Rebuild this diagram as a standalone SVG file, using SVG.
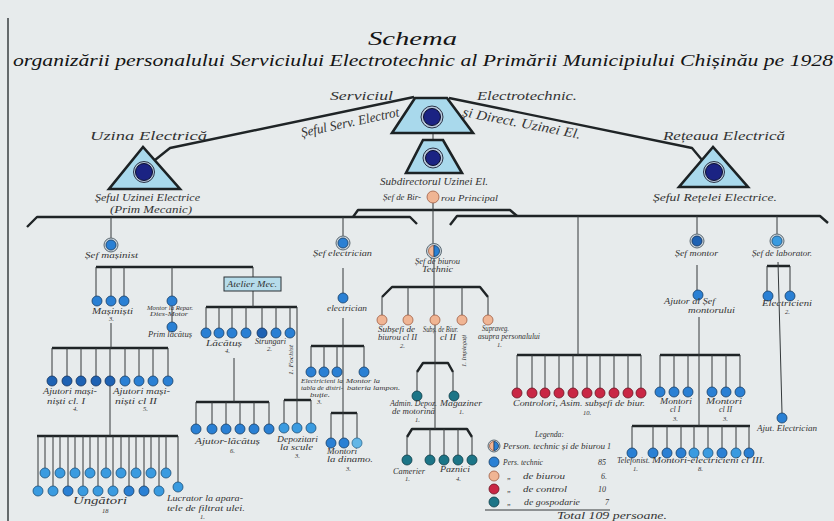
<svg xmlns="http://www.w3.org/2000/svg" width="834" height="521" viewBox="0 0 834 521">
<defs>
<style>
text{font-family:"Liberation Serif","DejaVu Serif",serif;font-style:italic;fill:#333}
.ti{fill:#141414}
.l{font-size:13.5px}
.m{font-size:9.5px}
.s{font-size:8px}
.xs{font-size:6.5px}
.k{stroke:#1f2426;stroke-width:2.4;fill:none;stroke-linejoin:round}
.n{stroke:#34393b;stroke-width:1;fill:none}
.tri{fill:#a9d9ec;stroke:#1c2224;stroke-width:2.6;stroke-linejoin:miter}
.nv{fill:#1b2383;stroke:#0c1030;stroke-width:1}
.nr{fill:#b9c9dc;stroke:#2a3346;stroke-width:1}
.rg{fill:#c9d3da;stroke:#5d6a73;stroke-width:1}
.cb{fill:#2a80d4;stroke:#173d66;stroke-width:.8}
.cd{fill:#1e62b3;stroke:#12315c;stroke-width:.8}
.cl{fill:#3a9be0;stroke:#1c4f78;stroke-width:.8}
.cx{fill:#62b6e6;stroke:#2b6a92;stroke-width:.8}
.cp{fill:#f0b594;stroke:#a05e44;stroke-width:.8}
.cr{fill:#c92745;stroke:#6c1322;stroke-width:.8}
.ct{fill:#1c7587;stroke:#0e3c46;stroke-width:.8}
.bx{fill:#b6dcea;stroke:#2b3134;stroke-width:1}
</style>
</defs>
<rect width="834" height="521" fill="#e7ebec"/>
<line x1="8" y1="18" x2="8" y2="521" stroke="#3a3f42" stroke-width="1.5"/>

<g id="title">
<text x="368" y="45" class="ti" font-size="18" textLength="89" lengthAdjust="spacingAndGlyphs">Schema</text>
<text x="13" y="66" class="ti" font-size="16" textLength="820" lengthAdjust="spacingAndGlyphs">organizării personalului Serviciului Electrotechnic al Primării Municipiului Chișinău pe 1928</text>
</g>

<g id="connectors">
<polyline class="k" points="155,160 170,148 414,97"/>
<polyline class="k" points="449,98 692,148 702,160"/>
<polyline class="k" points="27,227 37,217 410,217 417,224"/>
<polyline class="k" points="353,217 358,210 510,210 517,216"/>
<polyline class="k" points="450,225 457,216 820,216 828,223"/>
<polyline class="k" points="382,297 392,287 480,287 488,297"/>
<polyline class="k" points="417,372 423,363 448,363 453,372"/>
<polyline class="k" points="407,437 412,429 467,429 472,437"/>
<path class="k" d="M96 267H253 M52 348H168 M37 436H178 M206 307H297 M196 402H269 M284 400H311 M311 346H364 M331 413H357 M517 355H641 M660 355H740 M632 426H750 M767 266H790"/>
<path class="n" d="M433 133V140 M433 203V244 M111 217V238 M343 217V236 M578 216V355 M697 216V234 M777 216V234
M96 267V296 M111 267V296 M124 267V296 M172 267V296 M253 267V277 M172 306V322
M111 323V348 M52 348V376 M67 348V376 M81 348V376 M96 348V376 M110 348V376 M125 348V376 M139 348V376 M153 348V376 M168 348V376
M110 386V436
M45 436V468 M60 436V468 M75 436V468 M90 436V468 M106 436V468 M121 436V468 M136 436V468 M151 436V468 M166 436V468
M38 436V486 M53 436V486 M68 436V486 M83 436V486 M98 436V486 M113 436V486 M129 436V486 M144 436V486 M159 436V486 M178 436V482
M253 291V307 M206 307V328 M219 307V328 M232 307V328 M246 307V328 M262 307V328 M276 307V328 M290 307V328 M297 307V400
M234 358V402 M196 402V424 M212 402V424 M226 402V424 M240 402V424 M254 402V424 M269 402V424
M284 400V423 M297 400V423 M311 400V423
M343 268V293 M343 318V438 M311 346V367 M324 346V367 M337 346V367 M364 346V367
M331 413V438 M357 413V438
M434 258V315 M382 297V315 M408 287V315 M462 287V315 M488 297V315 M435 325V429
M417 372V391 M453 372V391
M407 437V455 M430 429V455 M444 429V455 M458 429V455 M472 437V455
M517 355V388 M532 355V388 M545 355V388 M559 355V388 M573 355V388 M587 355V388 M600 355V388 M614 355V388 M628 355V388 M641 355V388
M697 265V290 M699 317V426
M660 355V387 M674 355V387 M688 355V387 M712 355V387 M726 355V387 M740 355V387
M632 426V448 M653 426V448 M667 426V448 M681 426V448 M694 426V448 M708 426V448 M722 426V448 M736 426V448 M749 426V448
M778 262L782 413 M767 266V291 M790 266V291
M485 510H610"/>
</g>

<g id="sef-serviciu">
<polygon class="tri" points="415,98 447,98 473,133 392,133"/>
<circle class="nr" cx="432" cy="117" r="11"/>
<circle class="nv" cx="432" cy="117" r="8.5"/>
<text x="330" y="100" class="l" textLength="63" lengthAdjust="spacingAndGlyphs">Serviciul</text>
<text x="477" y="100" class="l" textLength="100" lengthAdjust="spacingAndGlyphs">Electrotechnic.</text>
<text transform="translate(302,137) rotate(-12)" class="l" textLength="100" lengthAdjust="spacingAndGlyphs">Șeful Serv. Electrot</text>
<text transform="translate(462,116) rotate(11)" class="l" textLength="120" lengthAdjust="spacingAndGlyphs">și Direct. Uzinei El.</text>
</g>

<g id="subdirector">
<polygon class="tri" points="423,140 443,140 462,173 406,173"/>
<circle class="nr" cx="433" cy="158" r="10"/>
<circle class="nv" cx="433" cy="158" r="7.5"/>
<text x="380" y="185" class="m" textLength="108" lengthAdjust="spacingAndGlyphs">Subdirectorul Uzinei El.</text>
</g>

<g id="sef-birou-principal">
<circle class="cp" cx="433" cy="197" r="6"/>
<text x="383" y="200" class="s" textLength="38" lengthAdjust="spacingAndGlyphs">Șef de Bir-</text>
<text x="441" y="201" class="s" textLength="57" lengthAdjust="spacingAndGlyphs">rou Principal</text>
</g>

<g id="uzina-electrica">
<polygon class="tri" points="143,147 109,189 180,189"/>
<circle class="nr" cx="144" cy="172" r="10.5"/>
<circle class="nv" cx="144" cy="172" r="8.5"/>
<text x="90" y="140" class="l" font-size="15" textLength="117" lengthAdjust="spacingAndGlyphs">Uzina Electrică</text>
<text x="95" y="201" class="m" textLength="105" lengthAdjust="spacingAndGlyphs">Șeful Uzinei Electrice</text>
<text x="110" y="213" class="m" textLength="82" lengthAdjust="spacingAndGlyphs">(Prim Mecanic)</text>
</g>

<g id="reteaua-electrica">
<polygon class="tri" points="713,147 679,187 748,187"/>
<circle class="nr" cx="714" cy="172" r="10.5"/>
<circle class="nv" cx="714" cy="172" r="8.5"/>
<text x="663" y="140" class="l" font-size="15" textLength="122" lengthAdjust="spacingAndGlyphs">Rețeaua Electrică</text>
<text x="653" y="201" class="m" textLength="124" lengthAdjust="spacingAndGlyphs">Șeful Rețelei Electrice.</text>
</g>

<g id="sef-masinist">
<circle class="rg" cx="111" cy="245" r="7"/>
<circle class="cb" cx="111" cy="245" r="5"/>
<text x="85" y="258" class="s" textLength="53" lengthAdjust="spacingAndGlyphs">Șef mașinist</text>
</g>

<g id="masinisti">
<circle class="cb" cx="97" cy="301" r="5"/>
<circle class="cb" cx="111" cy="301" r="5"/>
<circle class="cb" cx="124" cy="301" r="5"/>
<text x="92" y="314" class="s" textLength="41" lengthAdjust="spacingAndGlyphs">Mașiniști</text>
<text x="109" y="321" class="xs">3.</text>
</g>

<g id="montor-repar">
<circle class="cb" cx="172" cy="301" r="5"/>
<text x="147" y="310" class="xs" textLength="46" lengthAdjust="spacingAndGlyphs">Montor la Repar.</text>
<text x="150" y="316" class="xs" textLength="38" lengthAdjust="spacingAndGlyphs">Dies-Motor</text>
</g>

<g id="prim-lacatus">
<circle class="cb" cx="172" cy="327" r="5"/>
<text x="148" y="337" class="s" textLength="44" lengthAdjust="spacingAndGlyphs">Prim lăcătuș</text>
</g>

<g id="ajutori-masinisti">
<circle class="cd" cx="52" cy="381" r="5"/>
<circle class="cd" cx="67" cy="381" r="5"/>
<circle class="cd" cx="81" cy="381" r="5"/>
<circle class="cd" cx="96" cy="381" r="5"/>
<circle class="cd" cx="110" cy="381" r="5"/>
<circle class="cb" cx="125" cy="381" r="5"/>
<circle class="cb" cx="139" cy="381" r="5"/>
<circle class="cb" cx="153" cy="381" r="5"/>
<circle class="cb" cx="168" cy="381" r="5"/>
<text x="43" y="394" class="s" textLength="54" lengthAdjust="spacingAndGlyphs">Ajutori mași-</text>
<text x="47" y="404" class="s" textLength="38" lengthAdjust="spacingAndGlyphs">niști cl. I</text>
<text x="73" y="411" class="xs">4.</text>
<text x="113" y="394" class="s" textLength="57" lengthAdjust="spacingAndGlyphs">Ajutori mași-</text>
<text x="115" y="404" class="s" textLength="42" lengthAdjust="spacingAndGlyphs">niști cl II</text>
<text x="143" y="411" class="xs">5.</text>
</g>

<g id="ungatori">
<circle class="cl" cx="45" cy="473" r="5"/><circle class="cl" cx="60" cy="473" r="5"/><circle class="cl" cx="75" cy="473" r="5"/><circle class="cl" cx="90" cy="473" r="5"/><circle class="cl" cx="106" cy="473" r="5"/><circle class="cl" cx="121" cy="473" r="5"/><circle class="cl" cx="136" cy="473" r="5"/><circle class="cl" cx="151" cy="473" r="5"/><circle class="cl" cx="166" cy="473" r="5"/>
<circle class="cl" cx="38" cy="491" r="5"/><circle class="cl" cx="53" cy="491" r="5"/><circle class="cb" cx="68" cy="491" r="5"/><circle class="cl" cx="83" cy="491" r="5"/><circle class="cl" cx="98" cy="491" r="5"/><circle class="cl" cx="113" cy="491" r="5"/><circle class="cb" cx="129" cy="491" r="5"/><circle class="cb" cx="144" cy="491" r="5"/><circle class="cl" cx="159" cy="491" r="5"/>
<text x="73" y="504" class="m" textLength="54" lengthAdjust="spacingAndGlyphs">Ungători</text>
<text x="102" y="513" class="xs">18</text>
</g>

<g id="lucrator-filtrat">
<circle class="cl" cx="178" cy="487" r="5"/>
<text x="167" y="501" class="s" textLength="76" lengthAdjust="spacingAndGlyphs">Lucrator la apara-</text>
<text x="167" y="511" class="s" textLength="78" lengthAdjust="spacingAndGlyphs">tele de filtrat ulei.</text>
<text x="200" y="519" class="xs">1.</text>
</g>

<g id="atelier-mec">
<rect class="bx" x="224" y="277" width="57" height="14"/>
<text x="227" y="287" class="s" textLength="50" lengthAdjust="spacingAndGlyphs">Atelier Mec.</text>
</g>

<g id="lacatus">
<circle class="cb" cx="206" cy="333" r="5"/><circle class="cb" cx="219" cy="333" r="5"/><circle class="cb" cx="232" cy="333" r="5"/><circle class="cb" cx="246" cy="333" r="5"/>
<text x="206" y="346" class="s" textLength="36" lengthAdjust="spacingAndGlyphs">Lăcătuș</text>
<text x="225" y="353" class="xs">4.</text>
</g>

<g id="strungari">
<circle class="cd" cx="262" cy="333" r="5"/><circle class="cb" cx="276" cy="333" r="5"/>
<text x="255" y="344" class="s" textLength="31" lengthAdjust="spacingAndGlyphs">Strungari</text>
<text x="267" y="351" class="xs">2.</text>
</g>

<g id="fochist">
<circle class="cb" cx="290" cy="333" r="5"/>
<text transform="translate(293,375) rotate(-90)" class="xs" textLength="30" lengthAdjust="spacingAndGlyphs">1. Fochist</text>
</g>

<g id="ajutor-lacatus">
<circle class="cb" cx="196" cy="429" r="5"/><circle class="cb" cx="212" cy="429" r="5"/><circle class="cb" cx="226" cy="429" r="5"/><circle class="cb" cx="240" cy="429" r="5"/><circle class="cb" cx="254" cy="429" r="5"/><circle class="cb" cx="269" cy="429" r="5"/>
<text x="195" y="444" class="s" textLength="65" lengthAdjust="spacingAndGlyphs">Ajutor-lăcătuș</text>
<text x="230" y="453" class="xs">6.</text>
</g>

<g id="depozitari">
<circle class="cl" cx="284" cy="428" r="5"/><circle class="cl" cx="297" cy="428" r="5"/><circle class="cl" cx="311" cy="428" r="5"/>
<text x="277" y="442" class="s" textLength="41" lengthAdjust="spacingAndGlyphs">Depozitari</text>
<text x="280" y="450" class="s" textLength="33" lengthAdjust="spacingAndGlyphs">la scule</text>
<text x="295" y="458" class="xs">3.</text>
</g>

<g id="sef-electrician">
<circle class="rg" cx="343" cy="243" r="7"/>
<circle class="cb" cx="343" cy="243" r="5"/>
<text x="313" y="256" class="s" textLength="59" lengthAdjust="spacingAndGlyphs">Șef electrician</text>
</g>

<g id="electrician">
<circle class="cb" cx="343" cy="298" r="5"/>
<text x="327" y="311" class="s" textLength="40" lengthAdjust="spacingAndGlyphs">electrician</text>
</g>

<g id="electricieni-tabla">
<circle class="cb" cx="311" cy="372" r="5"/><circle class="cb" cx="324" cy="372" r="5"/><circle class="cb" cx="337" cy="372" r="5"/>
<text x="301" y="383" class="xs" textLength="42" lengthAdjust="spacingAndGlyphs">Electricieni la</text>
<text x="301" y="390" class="xs" textLength="42" lengthAdjust="spacingAndGlyphs">tabla de distri-</text>
<text x="310" y="397" class="xs" textLength="20" lengthAdjust="spacingAndGlyphs">buție.</text>
<text x="317" y="404" class="xs">3.</text>
</g>

<g id="montor-baterie">
<circle class="cb" cx="364" cy="372" r="5"/>
<text x="346" y="383" class="xs" textLength="34" lengthAdjust="spacingAndGlyphs">Montor la</text>
<text x="347" y="390" class="xs" textLength="53" lengthAdjust="spacingAndGlyphs">bateria lampon.</text>
</g>

<g id="montori-dinamo">
<circle class="cb" cx="331" cy="443" r="5"/><circle class="cb" cx="344" cy="443" r="5"/><circle class="cx" cx="357" cy="443" r="5"/>
<text x="327" y="454" class="s" textLength="30" lengthAdjust="spacingAndGlyphs">Montori</text>
<text x="327" y="462" class="s" textLength="46" lengthAdjust="spacingAndGlyphs">la dinamo.</text>
<text x="346" y="471" class="xs">3.</text>
</g>

<g id="sef-birou-technic">
<circle class="rg" cx="434" cy="251" r="7.5"/>
<path class="cp" d="M434 245.5A5.5 5.5 0 0 0 434 256.5Z"/>
<path class="cb" d="M434 245.5A5.5 5.5 0 0 1 434 256.5Z"/>
<text x="415" y="264" class="s" textLength="45" lengthAdjust="spacingAndGlyphs">Șef de biurou</text>
<text x="422" y="272" class="s" textLength="31" lengthAdjust="spacingAndGlyphs">Technic</text>
</g>

<g id="subsefi-birou">
<circle class="cp" cx="382" cy="320" r="5"/><circle class="cp" cx="408" cy="320" r="5"/>
<text x="378" y="332" class="s" textLength="37" lengthAdjust="spacingAndGlyphs">Subșefi de</text>
<text x="378" y="340" class="s" textLength="39" lengthAdjust="spacingAndGlyphs">biurou cl II</text>
<text x="400" y="348" class="xs">2.</text>
</g>

<g id="subsef-birou-cl2">
<circle class="cp" cx="435" cy="320" r="5"/>
<text x="423" y="332" class="s" textLength="35" lengthAdjust="spacingAndGlyphs">Subș. de Biur.</text>
<text x="440" y="340" class="s" textLength="16" lengthAdjust="spacingAndGlyphs">cl II</text>
</g>

<g id="impiegati">
<circle class="cp" cx="462" cy="320" r="5"/>
<text transform="translate(466,367) rotate(-90)" class="xs" textLength="32" lengthAdjust="spacingAndGlyphs">1. Impiegați</text>
</g>

<g id="supraveg">
<circle class="cp" cx="488" cy="320" r="5"/>
<text x="482" y="331" class="s" textLength="27" lengthAdjust="spacingAndGlyphs">Supraveg.</text>
<text x="478" y="339" class="s" textLength="62" lengthAdjust="spacingAndGlyphs">asupra personalului</text>
<text x="497" y="347" class="xs">1.</text>
</g>

<g id="admin-depozit">
<circle class="ct" cx="417" cy="396" r="5"/>
<text x="390" y="406" class="s" textLength="47" lengthAdjust="spacingAndGlyphs">Admin. Depoz.</text>
<text x="392" y="414" class="s" textLength="43" lengthAdjust="spacingAndGlyphs">de motorină</text>
<text x="415" y="422" class="xs">1.</text>
</g>

<g id="magaziner">
<circle class="ct" cx="454" cy="396" r="5"/>
<text x="440" y="406" class="s" textLength="42" lengthAdjust="spacingAndGlyphs">Magaziner</text>
<text x="459" y="414" class="xs">1.</text>
</g>

<g id="camerier">
<circle class="ct" cx="407" cy="460" r="5"/>
<text x="393" y="474" class="s" textLength="32" lengthAdjust="spacingAndGlyphs">Camerier</text>
<text x="405" y="481" class="xs">1.</text>
</g>

<g id="paznici">
<circle class="ct" cx="430" cy="460" r="5"/><circle class="ct" cx="444" cy="460" r="5"/><circle class="ct" cx="458" cy="460" r="5"/><circle class="ct" cx="472" cy="460" r="5"/>
<text x="440" y="472" class="s" textLength="30" lengthAdjust="spacingAndGlyphs">Paznici</text>
<text x="456" y="481" class="xs">4.</text>
</g>

<g id="controlori">
<circle class="cr" cx="517" cy="393" r="5"/><circle class="cr" cx="532" cy="393" r="5"/><circle class="cr" cx="545" cy="393" r="5"/><circle class="cr" cx="559" cy="393" r="5"/><circle class="cr" cx="573" cy="393" r="5"/><circle class="cr" cx="587" cy="393" r="5"/><circle class="cr" cx="600" cy="393" r="5"/><circle class="cr" cx="614" cy="393" r="5"/><circle class="cr" cx="628" cy="393" r="5"/><circle class="cr" cx="641" cy="393" r="5"/>
<text x="513" y="406" class="s" textLength="132" lengthAdjust="spacingAndGlyphs">Controlori, Asim. subșefi de biur.</text>
<text x="583" y="415" class="xs">10.</text>
</g>

<g id="sef-montor">
<circle class="rg" cx="697" cy="241" r="7"/>
<circle class="cd" cx="697" cy="241" r="5"/>
<text x="675" y="256" class="s" textLength="43" lengthAdjust="spacingAndGlyphs">Șef montor</text>
</g>

<g id="ajutor-sef-montor">
<circle class="cb" cx="698" cy="295" r="5"/>
<text x="664" y="304" class="s" textLength="51" lengthAdjust="spacingAndGlyphs">Ajutor al Șef</text>
<text x="688" y="313" class="s" textLength="47" lengthAdjust="spacingAndGlyphs">montorului</text>
</g>

<g id="montori-cl1">
<circle class="cb" cx="660" cy="392" r="5"/><circle class="cb" cx="674" cy="392" r="5"/><circle class="cb" cx="688" cy="392" r="5"/>
<text x="660" y="404" class="s" textLength="32" lengthAdjust="spacingAndGlyphs">Montori</text>
<text x="670" y="412" class="s">cl I</text>
<text x="673" y="421" class="xs">3.</text>
</g>

<g id="montori-cl2">
<circle class="cb" cx="712" cy="392" r="5"/><circle class="cb" cx="726" cy="392" r="5"/><circle class="cb" cx="740" cy="392" r="5"/>
<text x="706" y="404" class="s" textLength="36" lengthAdjust="spacingAndGlyphs">Montori</text>
<text x="719" y="412" class="s">cl II</text>
<text x="723" y="421" class="xs">3.</text>
</g>

<g id="telefonist">
<circle class="cb" cx="632" cy="453" r="5"/>
<text x="617" y="463" class="s" textLength="33" lengthAdjust="spacingAndGlyphs">Telefonist.</text>
<text x="633" y="471" class="xs">1.</text>
</g>

<g id="montori-electricieni">
<circle class="cb" cx="653" cy="453" r="5"/><circle class="cb" cx="667" cy="453" r="5"/><circle class="cb" cx="681" cy="453" r="5"/><circle class="cl" cx="694" cy="453" r="5"/><circle class="cl" cx="708" cy="453" r="5"/><circle class="cb" cx="722" cy="453" r="5"/><circle class="cl" cx="736" cy="453" r="5"/><circle class="cb" cx="749" cy="453" r="5"/>
<text x="652" y="463" class="s" textLength="113" lengthAdjust="spacingAndGlyphs">Montori-electricieni cl III.</text>
<text x="698" y="471" class="xs">8.</text>
</g>

<g id="sef-laborator">
<circle class="rg" cx="777" cy="241" r="7"/>
<circle class="cl" cx="777" cy="241" r="5"/>
<text x="752" y="256" class="s" textLength="60" lengthAdjust="spacingAndGlyphs">Șef de laborator.</text>
</g>

<g id="electricieni-laborator">
<circle class="cb" cx="768" cy="296" r="5"/><circle class="cb" cx="790" cy="296" r="5"/>
<text x="762" y="306" class="s" textLength="50" lengthAdjust="spacingAndGlyphs">Electricieni</text>
<text x="785" y="314" class="xs">2.</text>
</g>

<g id="ajut-electrician">
<circle class="cb" cx="782" cy="418" r="5"/>
<text x="757" y="431" class="s" textLength="60" lengthAdjust="spacingAndGlyphs">Ajut. Electrician</text>
</g>

<g id="legenda">
<text x="535" y="437" class="s" textLength="29" lengthAdjust="spacingAndGlyphs">Legenda:</text>
<circle class="rg" cx="494" cy="446" r="6"/>
<path class="cp" d="M494 441.5A4.5 4.5 0 0 0 494 450.5Z"/>
<path class="cb" d="M494 441.5A4.5 4.5 0 0 1 494 450.5Z"/>
<text x="503" y="449" class="s" textLength="102" lengthAdjust="spacingAndGlyphs">Person. technic și de biurou</text>
<text x="607" y="449" class="s">1</text>
<circle class="cb" cx="494" cy="462" r="5"/>
<text x="503" y="465" class="s" textLength="40" lengthAdjust="spacingAndGlyphs">Pers. technic</text>
<text x="598" y="465" class="s">85</text>
<circle class="cp" cx="494" cy="476" r="5"/>
<text x="507" y="479" class="s">„</text>
<text x="523" y="479" class="s" textLength="42" lengthAdjust="spacingAndGlyphs">de biurou</text>
<text x="601" y="479" class="s">6.</text>
<circle class="cr" cx="494" cy="489" r="5"/>
<text x="507" y="492" class="s">„</text>
<text x="523" y="492" class="s" textLength="44" lengthAdjust="spacingAndGlyphs">de control</text>
<text x="598" y="492" class="s">10</text>
<circle class="ct" cx="494" cy="502" r="5"/>
<text x="507" y="505" class="s">„</text>
<text x="524" y="505" class="s" textLength="56" lengthAdjust="spacingAndGlyphs">de gospodarie</text>
<text x="605" y="505" class="s">7</text>
<text x="557" y="519" class="m" textLength="110" lengthAdjust="spacingAndGlyphs">Total 109 persoane.</text>
</g>
</svg>
